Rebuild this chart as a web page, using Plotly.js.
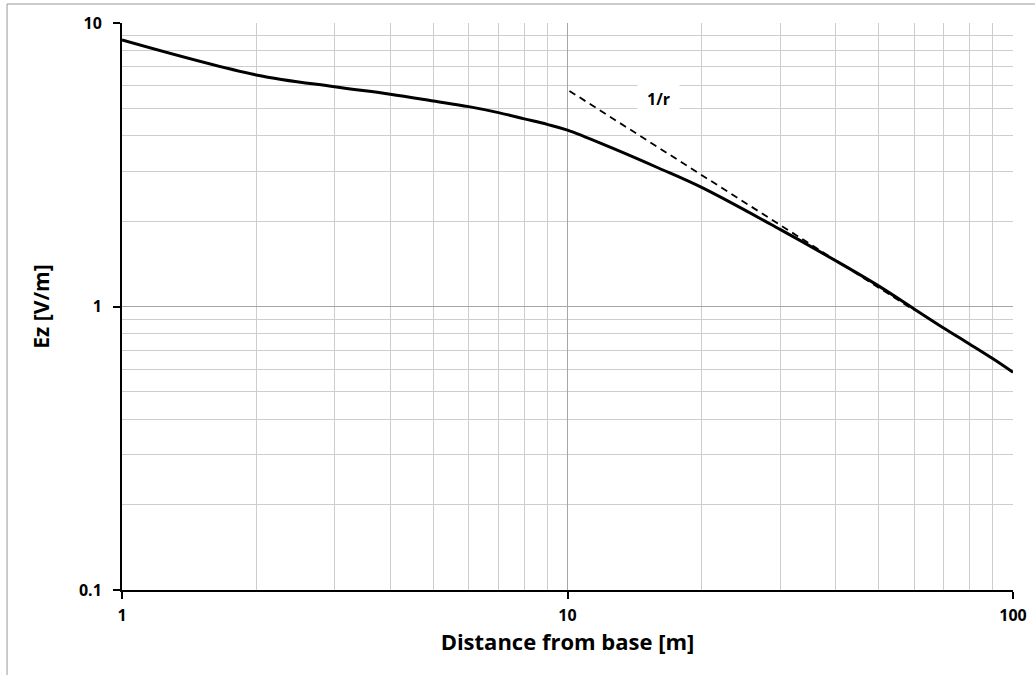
<!DOCTYPE html>
<html>
<head>
<meta charset="utf-8">
<script src="https://cdn.plot.ly/plotly-3.0.1.min.js"></script>
<style>html,body{margin:0;padding:0;background:#fff;}#chart{width:1035px;height:675px;}</style>
</head>
<body>
<div id="chart"></div>
<script>
// Ez curve
const distance = [1, 2, 3, 4, 5, 6, 7, 8, 9, 10, 12.5, 16, 20, 30, 40, 50, 60, 70, 80, 90, 100];
const ez = [8.71, 6.56, 5.96, 5.61, 5.31, 5.07, 4.83, 4.59, 4.39, 4.19, 3.64, 3.08, 2.63, 1.87, 1.45, 1.18, 0.98, 0.838, 0.736, 0.655, 0.586];
// 1/r reference line
const refDistance = [10.1, 60];
const refEz = [5.76, 0.97];
const xTickVals = [1, 10, 100];
const xTickText = ['1', '10', '100'];
const yTickVals = [0.1, 1, 10];
const yTickText = ['0.1', '1', '10'];
const xMinor = [2,3,4,5,6,7,8,9,20,30,40,50,60,70,80,90];
const yMinor = [0.2,0.3,0.4,0.5,0.6,0.7,0.8,0.9,2,3,4,5,6,7,8,9];

const fontFam = '"Open Sans", Lato, sans-serif';

const traces = [
  {x: distance, y: ez, type: 'scatter', mode: 'lines',
   line: {color: '#000', width: 3, shape: 'spline', smoothing: 1}, hoverinfo: 'skip'},
  {x: refDistance, y: refEz, type: 'scatter', mode: 'lines',
   line: {color: '#000', width: 1.8, dash: '7px,5px'}, hoverinfo: 'skip'}
];

const layout = {
  width: 1035, height: 675,
  margin: {l: 122, r: 22, t: 23, b: 85},
  paper_bgcolor: '#fff', plot_bgcolor: '#fff',
  showlegend: false,
  font: {family: fontFam, color: '#000'},
  xaxis: {
    type: 'log', range: [0, 2],
    tickvals: xTickVals, ticktext: xTickText,
    tickfont: {family: fontFam, size: 16, color: '#000', weight: 'bold'},
    ticks: 'outside', ticklen: 7, tickwidth: 2, tickcolor: '#000',
    ticklabelstandoff: 3,
    showline: true, linecolor: '#000', linewidth: 2,
    showgrid: true, gridcolor: '#a6a6a6', gridwidth: 1,
    zeroline: false,
    minor: {tickvals: xMinor, showgrid: true, gridcolor: '#cdcdcd', gridwidth: 1, ticks: ''},
    title: {text: 'Distance from base [m]', font: {family: fontFam, size: 22, color: '#000', weight: 'bold'}, standoff: 8}
  },
  yaxis: {
    type: 'log', range: [-1, 1],
    tickvals: yTickVals, ticktext: yTickText,
    tickfont: {family: fontFam, size: 16, color: '#000', weight: 'bold'},
    ticks: 'outside', ticklen: 7, tickwidth: 2, tickcolor: '#000',
    ticklabelstandoff: 8,
    showline: true, linecolor: '#000', linewidth: 2,
    showgrid: true, gridcolor: '#a6a6a6', gridwidth: 1,
    zeroline: false,
    minor: {tickvals: yMinor, showgrid: true, gridcolor: '#cdcdcd', gridwidth: 1, ticks: ''},
    title: {text: 'Ez [V/m]', font: {family: fontFam, size: 21, color: '#000', weight: 'bold'}, standoff: 24}
  },
  annotations: [{
    x: Math.log10(16), y: Math.log10(5.4), xref: 'x', yref: 'y',
    text: '1/r', showarrow: false,
    font: {family: fontFam, size: 16, color: '#000', weight: 'bold'},
    bgcolor: '#fff', borderpad: 9
  }],
  shapes: [
    {type: 'line', xref: 'paper', yref: 'paper', x0: -0.129, x1: 1.1, y0: 1.0335, y1: 1.0335, line: {color: '#999', width: 1}},
    {type: 'line', xref: 'paper', yref: 'paper', x0: -0.129, x1: -0.129, y0: -0.3, y1: 1.0335, line: {color: '#999', width: 1}}
  ]
};

Plotly.newPlot('chart', traces, layout, {displayModeBar: false, staticPlot: true});
</script>
</body>
</html>
